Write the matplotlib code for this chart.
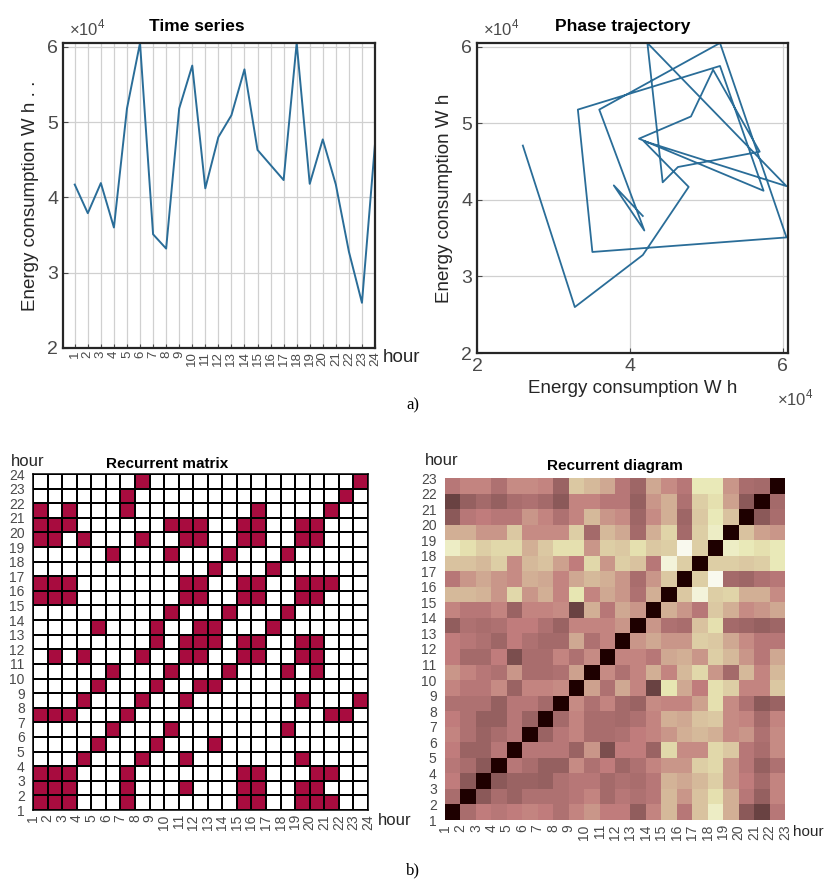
import numpy as np
import matplotlib.pyplot as plt
from matplotlib.colors import ListedColormap, PowerNorm

plt.rcParams['font.family'] = ['Liberation Sans', 'DejaVu Sans']
plt.rcParams['mathtext.fontset'] = 'custom'
plt.rcParams['mathtext.rm'] = 'Liberation Sans'

# hourly energy consumption, W h
hours = np.arange(1, 25)
energy = [41700, 37900, 41900, 36000, 51800, 60500, 35100, 33200, 51800, 57500, 41200, 48000,
          50900, 57000, 46300, 44300, 42300, 60500, 41800, 47700, 41700, 32800, 26000, 47100]

# recurrent matrix: for each hour (row), the hours that are recurrent with it
rec_cols = [
    [1, 2, 3, 7, 15, 16, 19, 20, 21],
    [1, 2, 3, 7, 11, 15, 16, 19, 20],
    [1, 2, 3, 7, 15, 16, 20, 21],
    [4, 8, 11, 19],
    [5, 9, 13],
    [6, 10, 18],
    [1, 2, 3, 7, 21, 22],
    [4, 8, 11, 19, 23],
    [5, 9, 12, 13],
    [6, 10, 14, 18, 20],
    [2, 4, 8, 11, 12, 15, 16, 19, 20],
    [9, 11, 12, 13, 15, 16, 19, 20],
    [5, 9, 12, 13, 17],
    [10, 14, 18],
    [1, 2, 3, 11, 12, 15, 16, 19, 20],
    [1, 2, 3, 11, 12, 15, 16, 19, 20, 21],
    [13, 17],
    [6, 10, 14, 18],
    [1, 2, 4, 8, 11, 12, 15, 16, 19, 20],
    [1, 2, 3, 10, 11, 12, 15, 16, 19, 20],
    [1, 3, 7, 16, 21],
    [7, 22],
    [8, 23],
]

# recurrent diagram: normalised distances, lower triangle (row r, columns 1..r-1)
dist_low = [
    [0.40],
    [0.48, 0.30],
    [0.45, 0.40, 0.30],
    [0.48, 0.35, 0.35, 0.45],
    [0.50, 0.42, 0.35, 0.40, 0.45],
    [0.48, 0.42, 0.33, 0.33, 0.45, 0.35],
    [0.42, 0.42, 0.42, 0.33, 0.45, 0.45, 0.38],
    [0.50, 0.45, 0.45, 0.52, 0.35, 0.50, 0.50, 0.52],
    [0.55, 0.50, 0.45, 0.42, 0.55, 0.40, 0.40, 0.42, 0.58],
    [0.48, 0.38, 0.38, 0.48, 0.25, 0.40, 0.40, 0.50, 0.42, 0.52],
    [0.48, 0.45, 0.42, 0.36, 0.48, 0.42, 0.38, 0.38, 0.60, 0.42, 0.50],
    [0.32, 0.42, 0.40, 0.42, 0.48, 0.48, 0.42, 0.35, 0.50, 0.50, 0.50, 0.55],
    [0.50, 0.45, 0.45, 0.50, 0.35, 0.50, 0.50, 0.52, 0.20, 0.62, 0.45, 0.60, 0.55],
    [0.65, 0.65, 0.63, 0.55, 0.75, 0.55, 0.62, 0.50, 0.80, 0.50, 0.60, 0.55, 0.42, 0.62],
    [0.45, 0.55, 0.60, 0.55, 0.52, 0.62, 0.60, 0.50, 0.60, 0.65, 0.62, 0.55, 0.40, 0.55, 0.70],
    [0.68, 0.68, 0.65, 0.72, 0.52, 0.65, 0.68, 0.58, 0.48, 0.75, 0.55, 0.72, 0.68, 0.45, 0.90, 0.72],
    [0.85, 0.78, 0.72, 0.75, 0.75, 0.62, 0.70, 0.78, 0.78, 0.55, 0.72, 0.70, 0.78, 0.70, 0.72, 0.95, 0.72],
    [0.62, 0.62, 0.55, 0.55, 0.70, 0.52, 0.52, 0.52, 0.72, 0.38, 0.65, 0.60, 0.38, 0.62, 0.74, 0.38, 0.72, 0.85],
    [0.30, 0.45, 0.48, 0.45, 0.45, 0.55, 0.50, 0.42, 0.50, 0.65, 0.55, 0.52, 0.36, 0.52, 0.62, 0.36, 0.70, 0.82, 0.68],
    [0.20, 0.33, 0.38, 0.33, 0.40, 0.42, 0.38, 0.30, 0.50, 0.50, 0.45, 0.45, 0.33, 0.55, 0.62, 0.42, 0.72, 0.78, 0.58, 0.30],
    [0.45, 0.50, 0.50, 0.42, 0.52, 0.52, 0.50, 0.35, 0.70, 0.65, 0.60, 0.45, 0.36, 0.60, 0.52, 0.45, 0.82, 0.82, 0.55, 0.40, 0.38],
]

line_col = '#2a6d98'
tick_col = '#4a4a4a'
box_col = '#262626'
W, H = 827, 884

fig = plt.figure(figsize=(W / 100, H / 100), dpi=100)


def place(x0, y0, x1, y1):
    return fig.add_axes([x0 / W, 1 - y1 / H, (x1 - x0) / W, (y1 - y0) / H])


def style_box(ax, lw=1.6):
    for s in ax.spines.values():
        s.set_linewidth(lw)
        s.set_color(box_col)
    ax.tick_params(direction='in', colors=tick_col, labelcolor=tick_col)


# ---- a) time series
ax1 = place(63, 43, 375, 348)
ax1.plot(hours, energy, color=line_col, lw=1.4)
ax1.set_xlim(0.1, 24)
ax1.set_ylim(20000, 60500)
ax1.set_xticks(hours)
ax1.set_xticklabels([str(h) for h in hours], rotation=90, fontsize=9.5)
ax1.set_yticks([20000, 30000, 40000, 50000, 60000])
ax1.set_yticklabels(['2', '3', '4', '5', '6'], fontsize=14)
ax1.grid(True, color='#d0d0d0', lw=0.9)
style_box(ax1)
ax1.tick_params(axis='x', pad=2, length=3)
ax1.set_ylabel('Energy consumption W h . .', fontsize=13.5, color=box_col, labelpad=6)
ax1.text(0.02, 1.015, '×10$^4$', transform=ax1.transAxes, fontsize=12, color=tick_col, va='bottom')
ax1.text(0.43, 1.03, 'Time series', transform=ax1.transAxes, fontsize=12.5, fontweight='bold',
         ha='center', va='bottom')
ax1.text(1.025, -0.03, 'hour', transform=ax1.transAxes, fontsize=13.5, color=box_col, va='center')

# ---- a) phase trajectory
ax2 = place(477, 43, 788, 353)
ax2.plot(energy[:-1], energy[1:], color=line_col, lw=1.3)
ax2.set_xlim(20000, 60700)
ax2.set_ylim(20000, 60500)
ax2.set_xticks([20000, 40000, 60000])
ax2.set_xticklabels(['2', '4', '6'], fontsize=14)
ax2.set_yticks([20000, 30000, 40000, 50000, 60000])
ax2.set_yticklabels(['2', '3', '4', '5', '6'], fontsize=14)
ax2.grid(True, color='#d0d0d0', lw=0.9)
style_box(ax2)
ax2.set_xlabel('Energy consumption W h', fontsize=13.5, color=box_col, labelpad=4)
ax2.set_ylabel('Energy consumption W h', fontsize=13.5, color=box_col, labelpad=6)
ax2.text(0.02, 1.015, '×10$^4$', transform=ax2.transAxes, fontsize=12, color=tick_col, va='bottom')
ax2.text(0.965, -0.145, '×10$^4$', transform=ax2.transAxes, fontsize=12, color=tick_col, va='center')
ax2.text(0.47, 1.03, 'Phase trajectory', transform=ax2.transAxes, fontsize=12.5, fontweight='bold',
         ha='center', va='bottom')

fig.text(413 / W, 1 - 405 / H, 'a)', fontsize=12, family='Liberation Serif', ha='center', va='center')
fig.text(413 / W, 1 - 870 / H, 'b)', fontsize=12, family='Liberation Serif', ha='center', va='center')

# ---- b) recurrent matrix
n = len(rec_cols)
rec = np.zeros((n, n))
for r, cols in enumerate(rec_cols):
    for c in cols:
        rec[r, c - 1] = 1
edges = np.arange(1, n + 2)
ax3 = place(33, 474, 368, 810)
ax3.pcolormesh(edges, edges, rec, cmap=ListedColormap(['white', '#a80c3f']),
               edgecolors='black', linewidth=1.1, vmin=0, vmax=1)
ax3.set_xlim(1, n + 1)
ax3.set_ylim(1, n + 1)
ax3.set_xticks(edges)
ax3.set_xticklabels([str(e) for e in edges], rotation=90, fontsize=10)
ax3.set_yticks(edges)
ax3.set_yticklabels([str(e) for e in edges], fontsize=10)
for s in ax3.spines.values():
    s.set_color('black')
    s.set_linewidth(1.1)
ax3.tick_params(length=0, colors=tick_col)
ax3.tick_params(axis='x', pad=3)
ax3.tick_params(axis='y', pad=6)
ax3.text(-0.065, 1.015, 'hour', transform=ax3.transAxes, fontsize=12, color=box_col, va='bottom')
ax3.text(0.4, 1.01, 'Recurrent matrix', transform=ax3.transAxes, fontsize=11, fontweight='bold',
         ha='center', va='bottom')
ax3.text(1.03, -0.03, 'hour', transform=ax3.transAxes, fontsize=12, color=box_col, va='center')

# ---- b) recurrent diagram
m = len(dist_low) + 1
dist = np.zeros((m, m))
for r, vals in enumerate(dist_low, start=1):
    for c, v in enumerate(vals):
        dist[r, c] = v
        dist[c, r] = v
edges2 = np.arange(1, m + 2)
ax4 = place(445, 478, 785, 820)
ax4.pcolormesh(edges2, edges2, dist, cmap='pink', norm=PowerNorm(gamma=1.4, vmin=0, vmax=1))
ax4.set_xlim(1, m + 1)
ax4.set_ylim(1, m + 1)
ax4.set_xticks(edges2)
ax4.set_xticklabels([str(e) for e in edges2], rotation=90, fontsize=10)
ax4.set_yticks(edges2)
ax4.set_yticklabels([str(e) for e in edges2], fontsize=10)
for s in ax4.spines.values():
    s.set_visible(False)
ax4.tick_params(length=0, colors=tick_col)
ax4.tick_params(axis='x', pad=3)
ax4.tick_params(axis='y', pad=6)
ax4.text(-0.06, 1.03, 'hour', transform=ax4.transAxes, fontsize=12, color=box_col, va='bottom')
ax4.text(0.5, 1.015, 'Recurrent diagram', transform=ax4.transAxes, fontsize=11, fontweight='bold',
         ha='center', va='bottom')
ax4.text(1.025, -0.035, 'hour', transform=ax4.transAxes, fontsize=11, color=box_col, va='center')

fig.savefig('out.png', dpi=100)
